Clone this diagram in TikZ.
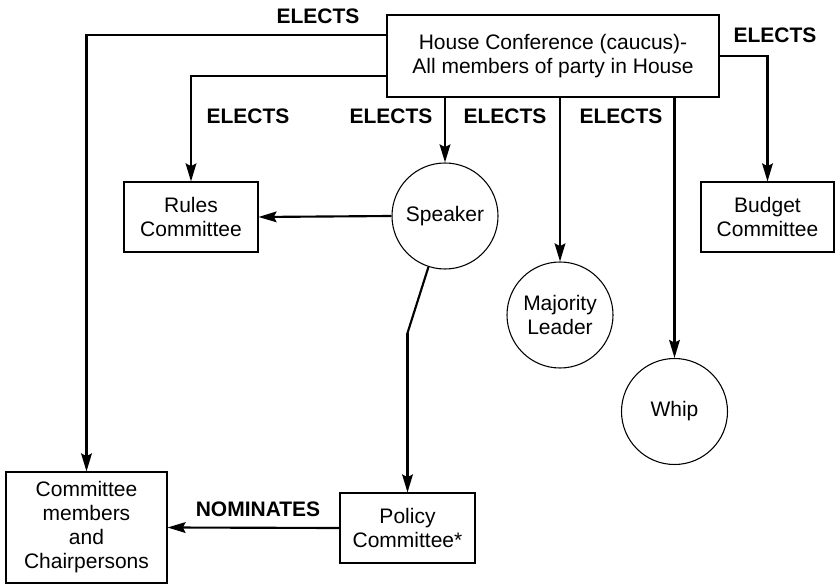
\documentclass[tikz,border=0pt]{standalone}
\usepackage{fontspec}
\setmainfont{Liberation Sans}
\usetikzlibrary{arrows.meta}
\tikzset{
  box/.style={draw, line width=0.8pt, align=center, inner sep=0pt},
  circ/.style={draw, circle, line width=0.8pt, align=center, inner sep=0pt, minimum size=79.5pt},
  lbl/.style={font=\fontsize{15.75}{18}\selectfont\bfseries, inner sep=0pt},
  arr/.style={line width=1.6pt, -{Stealth[length=13.5pt,width=8pt,inset=2pt]}},
  seg/.style={line width=1.6pt}
}
\begin{document}
\begin{tikzpicture}[x=0.75pt, y=-0.75pt, font=\fontsize{15.75}{18}\selectfont]
    \useasboundingbox (0,0) rectangle (839,584);

    % Konferenz
    \node[box, minimum width=249pt, minimum height=61.5pt] (conf) at (553,56)
        {House Conference (caucus)-\\All members of party in House};

    % Ausschuesse
    \node[box, minimum width=100.5pt, minimum height=52.5pt] (rules) at (191,217) {Rules\\Committee};
    \node[box, minimum width=99.75pt, minimum height=52.5pt] (budget) at (767.5,217) {Budget\\Committee};
    \node[box, minimum width=120.75pt, minimum height=83.25pt] (members) at (86.5,527.5)
        {Committee\\members\\and\\Chairpersons};
    \node[box, minimum width=101.25pt, minimum height=52.5pt] (policy) at (407.5,528) {Policy\\Committee*};

    % Aemter
    \node[circ] (speaker) at (445,216) {Speaker};
    \node[circ] (majority) at (560,315) {Majority\\Leader};
    \node[circ] (whip) at (674.5,411.5) {Whip};

    % Pfeile
    \draw[arr] (conf.west |- 0,35) -| (members.north);
    \draw[arr] (conf.west |- 0,76) -| (rules.north);
    \draw[arr] (conf.south -| speaker) -- (speaker.north);
    \draw[arr] (conf.south -| majority) -- (majority.north);
    \draw[arr] (conf.south -| whip) -- (whip.north);
    \draw[arr] (conf.east) -| (budget.north);
    \draw[arr] (speaker.west) -- (rules.east);
    \coordinate (knick) at (policy.north |- 0,333);
    \draw[seg] (speaker.252) -- (knick);
    \draw[arr] (knick) -- (policy.north);
    \draw[arr] (policy.west) -- (members.east);

    % Beschriftung
    \node[lbl] (e1) at (318,16) {ELECTS};
    \node[lbl] (e2) at (248,116) {ELECTS};
    \node[lbl] (e3) at (391,116) {ELECTS};
    \node[lbl] (e4) at (505,116) {ELECTS};
    \node[lbl] (e5) at (621,116) {ELECTS};
    \node[lbl] (e6) at (775,35) {ELECTS};
    \node[lbl] (nom) at (258,509) {NOMINATES};
\end{tikzpicture}
\end{document}
